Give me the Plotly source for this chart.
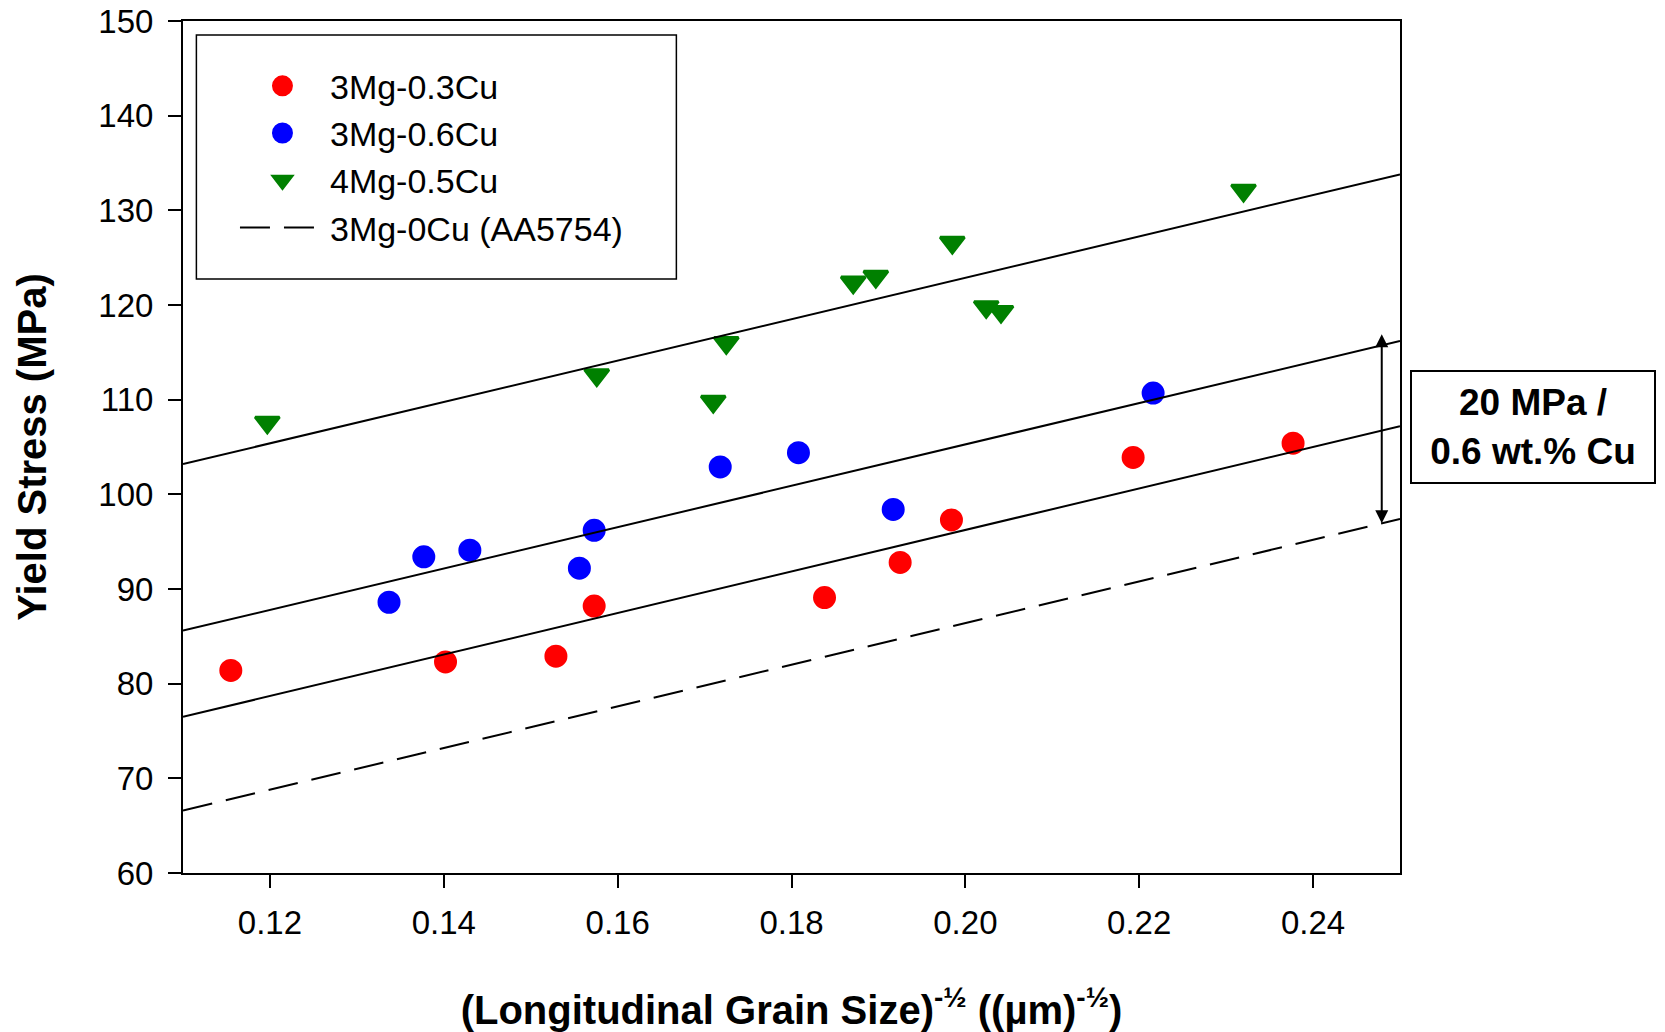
import plotly.graph_objects as go

# ---- data ----
x_03cu = [0.1155, 0.1402, 0.1529, 0.1573, 0.1838, 0.1925, 0.1984, 0.2193, 0.2377]
y_03cu = [81.4, 82.3, 82.9, 88.2, 89.1, 92.8, 97.3, 103.9, 105.4]

x_06cu = [0.1337, 0.1377, 0.1430, 0.1556, 0.1573, 0.1718, 0.1808, 0.1917, 0.2216]
y_06cu = [88.6, 93.4, 94.1, 92.2, 96.2, 102.9, 104.4, 98.4, 110.7]

x_4mg = [0.1197, 0.1576, 0.1710, 0.1725, 0.1871, 0.1897, 0.1985, 0.2024, 0.2041, 0.2320]
y_4mg = [107.6, 112.6, 109.8, 116.0, 122.4, 123.0, 126.6, 119.8, 119.3, 132.1]

fit_x = [0.11, 0.25]
fit_4mg = [103.2, 133.8]
fit_06cu = [85.6, 116.2]
fit_03cu = [76.5, 107.2]
fit_0cu = [66.6, 97.4]

arrow_x = 0.2479
arrow_y = [96.8, 116.9]

x_ticks = [0.12, 0.14, 0.16, 0.18, 0.20, 0.22, 0.24]
x_ticklabels = ["0.12", "0.14", "0.16", "0.18", "0.20", "0.22", "0.24"]
y_ticks = [60, 70, 80, 90, 100, 110, 120, 130, 140, 150]

FONT = "Liberation Sans, Arial, sans-serif"

fig = go.Figure()

fig.add_trace(go.Scatter(x=x_03cu, y=y_03cu, mode="markers", name="3Mg-0.3Cu",
                         marker=dict(symbol="circle", size=18, color="#FF0000",
                                     line=dict(color="#FF0000", width=5))))
fig.add_trace(go.Scatter(x=x_06cu, y=y_06cu, mode="markers", name="3Mg-0.6Cu",
                         marker=dict(symbol="circle", size=18, color="#0000FF",
                                     line=dict(color="#0000FF", width=5))))
fig.add_trace(go.Scatter(x=x_4mg, y=y_4mg, mode="markers", name="4Mg-0.5Cu",
                         marker=dict(symbol="triangle-down", size=21, color="#008000",
                                     line=dict(color="#008000", width=3))))
fig.add_trace(go.Scatter(x=fit_x, y=fit_0cu, mode="lines", name="3Mg-0Cu (AA5754)",
                         line=dict(color="black", width=2, dash="30px,14px")))
for fy in (fit_4mg, fit_06cu, fit_03cu):
    fig.add_trace(go.Scatter(x=fit_x, y=fy, mode="lines", showlegend=False,
                             line=dict(color="black", width=2)))

# double-headed arrow
fig.add_annotation(x=arrow_x, y=arrow_y[1], ax=arrow_x, ay=arrow_y[0],
                   xref="x", yref="y", axref="x", ayref="y", text="",
                   showarrow=True, arrowhead=2, arrowsize=1.3, arrowwidth=2,
                   arrowside="end+start", arrowcolor="black", standoff=0, startstandoff=0)

# label box
fig.add_annotation(x=1.1093, y=0.5235, xref="paper", yref="paper",
                   text="20 MPa /<br>0.6 wt.% Cu", showarrow=False,
                   font=dict(family=FONT, size=37, color="black", weight="bold"),
                   bordercolor="black", borderwidth=2, borderpad=0,
                   width=242, height=110, align="center",
                   xanchor="center", yanchor="middle", bgcolor="white")

# legend frame
fig.add_shape(type="rect", xref="paper", yref="paper",
              x0=0.011, x1=0.4054, y0=0.6972, y1=0.9836,
              line=dict(color="black", width=1.5), fillcolor="rgba(0,0,0,0)")

fig.update_layout(
    width=1657, height=1024,
    margin=dict(l=175, r=265, t=13, b=159, autoexpand=False),
    plot_bgcolor="white", paper_bgcolor="white",
    font=dict(family=FONT, color="black"),
    showlegend=True,
    legend=dict(x=0.0427, y=0.9575, xanchor="left", yanchor="top",
                bgcolor="rgba(0,0,0,0)", borderwidth=0,
                font=dict(family=FONT, size=34, color="black"),
                itemwidth=85, tracegroupgap=0),
)

fig.update_xaxes(range=[0.11, 0.25], tickvals=x_ticks, ticktext=x_ticklabels,
                 ticks="outside", ticklen=13, tickwidth=2, tickcolor="black",
                 showline=True, linecolor="black", linewidth=2, mirror=True,
                 showgrid=False, zeroline=False, automargin=False,
                 ticklabeloverflow="allow",
                 tickfont=dict(family=FONT, size=33, color="black"),
                 ticklabelstandoff=6,
                 title=dict(text="(Longitudinal Grain Size)<sup>-½</sup> ((µm)<sup>-½</sup>)",
                            font=dict(family=FONT, size=40, color="black", weight="bold"),
                            standoff=58))
fig.update_yaxes(range=[60, 150], tickvals=y_ticks,
                 ticks="outside", ticklen=13, tickwidth=2, tickcolor="black",
                 showline=True, linecolor="black", linewidth=2, mirror=True,
                 showgrid=False, zeroline=False, automargin=False,
                 ticklabeloverflow="allow",
                 tickfont=dict(family=FONT, size=33, color="black"),
                 ticklabelstandoff=8,
                 title=dict(text="Yield Stress (MPa)",
                            font=dict(family=FONT, size=40, color="black", weight="bold"),
                            standoff=39))

fig.write_html("out.html")
